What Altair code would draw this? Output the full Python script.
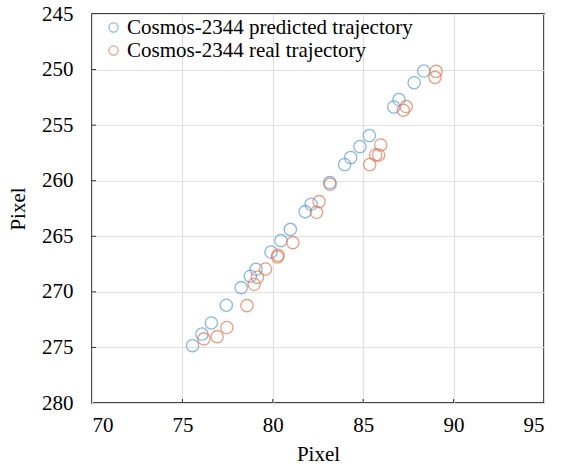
import altair as alt
import pandas as pd

pred_x = [75.56, 76.08, 76.60, 77.43, 78.25, 78.76, 79.07, 79.90, 80.45, 80.97, 81.79, 82.12,
          83.15, 83.97, 84.31, 84.82, 85.34, 86.69, 86.98, 87.82, 88.35]
pred_y = [274.84, 273.80, 272.80, 271.20, 269.62, 268.59, 267.97, 266.42, 265.39, 264.38, 262.78, 262.12,
          260.17, 258.55, 257.92, 256.93, 255.94, 253.36, 252.70, 251.18, 250.13]

real_x = [76.19, 76.92, 77.46, 78.57, 78.97, 79.15, 79.60, 80.26, 80.29, 81.11, 82.42, 82.56,
          83.17, 85.36, 85.69, 85.85, 85.97, 87.22, 87.38, 88.97, 89.03]
real_y = [274.23, 274.03, 273.21, 271.24, 269.32, 268.69, 267.94, 266.85, 266.70, 265.57, 262.84, 261.88,
          260.32, 258.55, 257.68, 257.68, 256.78, 253.66, 253.33, 250.70, 250.16]

x_ticks = [70, 75, 80, 85, 90, 95]
y_ticks = [245, 250, 255, 260, 265, 270, 275, 280]

series_names = ["Cosmos-2344 predicted trajectory", "Cosmos-2344 real trajectory"]
series_colors = ["#5B9BD5", "#E57452"]

df = pd.concat([
    pd.DataFrame({"x": pred_x, "y": pred_y, "series": series_names[0]}),
    pd.DataFrame({"x": real_x, "y": real_y, "series": series_names[1]}),
])

FONT = "Liberation Serif"
W, H = 452, 389

xscale = alt.Scale(domain=[70, 95], nice=False, zero=False)
yscale = alt.Scale(domain=[245, 280], reverse=True, nice=False, zero=False)

points = alt.Chart(df).mark_point(shape="circle", filled=False, size=150, strokeWidth=1.3).encode(
    x=alt.X("x:Q", scale=xscale,
            axis=alt.Axis(values=x_ticks, title="Pixel", ticks=False,
                          labelFont=FONT, labelFontSize=21, titleFont=FONT, titleFontSize=21,
                          labelPadding=11, titlePadding=8, grid=True)),
    y=alt.Y("y:Q", scale=yscale,
            axis=alt.Axis(values=y_ticks, title="Pixel", ticks=False,
                          labelFont=FONT, labelFontSize=21, titleFont=FONT, titleFontSize=21,
                          labelPadding=19, titlePadding=13, grid=True)),
    color=alt.Color("series:N", scale=alt.Scale(domain=series_names, range=series_colors),
                    legend=alt.Legend(title=None, orient="none", legendX=11, legendY=3,
                                      symbolType="circle", symbolSize=85, symbolStrokeWidth=1.2,
                                      symbolFillColor="transparent",
                                      labelFont=FONT, labelFontSize=21, labelColor="black",
                                      labelOffset=3, rowPadding=1, labelLimit=400)),
)

xtick_marks = alt.Chart(pd.DataFrame({"t": x_ticks[1:-1]})).mark_rule(color="#333333", strokeWidth=1).encode(
    x=alt.X("t:Q", scale=xscale),
    y=alt.value(H), y2=alt.value(H - 4),
)
ytick_marks = alt.Chart(pd.DataFrame({"t": y_ticks[1:-1]})).mark_rule(color="#333333", strokeWidth=1).encode(
    y=alt.Y("t:Q", scale=yscale),
    x=alt.value(0), x2=alt.value(4),
)

chart = alt.layer(points, xtick_marks, ytick_marks).properties(
    width=W, height=H,
    autosize=alt.AutoSizeParams(type="none"),
    padding={"left": 92, "top": 14, "right": 20, "bottom": 64},
).configure_view(
    stroke="black", strokeWidth=1.5
).configure_axis(
    labelFont=FONT, labelFontSize=21, labelColor="black",
    titleFont=FONT, titleFontSize=21, titleColor="black", titleFontWeight="normal",
    gridColor="#e0e0e0", gridWidth=1.2, domain=False,
)

chart.save("out.html", embed_options={"renderer": "svg", "actions": False})
